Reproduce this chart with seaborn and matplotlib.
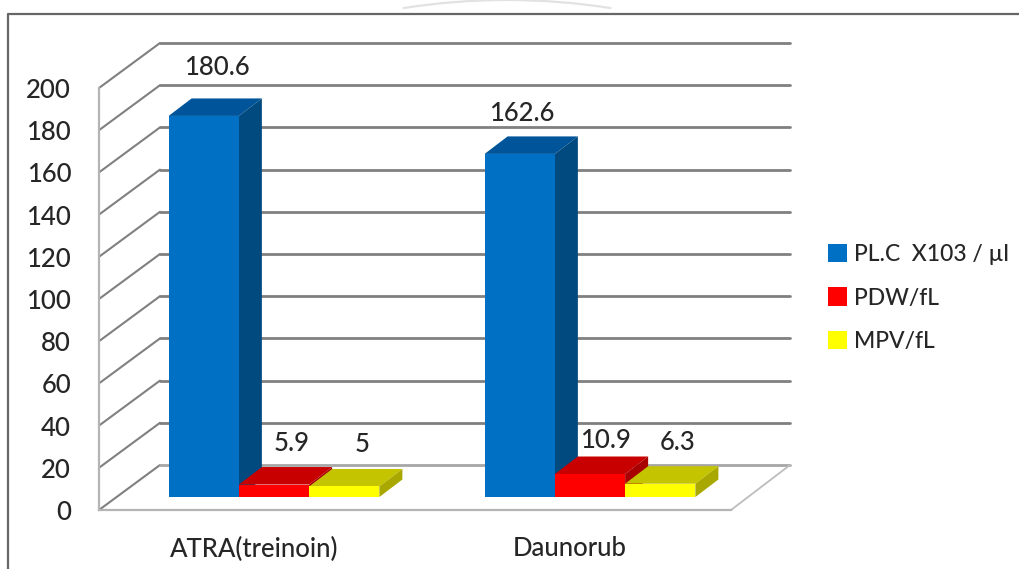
import matplotlib
matplotlib.use("Agg")
import matplotlib.pyplot as plt
from matplotlib.patches import Arc, Polygon
from matplotlib.transforms import ScaledTranslation
import pandas as pd
import seaborn as sns

# Platelet indices per treatment arm
categories = ["ATRA(treinoin)", "Daunorub"]
series_names = ["PL.C  X103 / µl", "PDW/fL", "MPV/fL"]
plc_values = [180.6, 162.6]
pdw_values = [5.9, 10.9]
mpv_values = [5, 6.3]
y_ticks = list(range(0, 201, 20))

front_colors = ["#0070C4", "#FF0000", "#FFFF00"]
top_colors = ["#00559A", "#C80000", "#C4C400"]
side_colors = ["#004A80", "#A80000", "#A8A800"]
# Per-series label nudges in pixels (right, up) from the top-centre of each front face
label_nudges = [[(13, 48), (2, 40)], [(18, 41), (15, 34)], [(18, 42), (17, 41)]]

W, H = 1019, 569
TEXT = "#262626"
FONT_SIZE = 18.5
sns.set_theme(style="white")
plt.rcParams["font.family"] = ["Lato", "DejaVu Sans"]
plt.rcParams["font.weight"] = "medium"
fig = plt.figure(figsize=(W / 100, H / 100), dpi=100, facecolor="white")


def axes_from_pixels(left, right, top, bottom, **kw):
    return fig.add_axes([left / W, 1 - bottom / H, (right - left) / W, (bottom - top) / H], **kw)


# Outer frame edges and the faint arc above them, in pixel coordinates
page = axes_from_pixels(0, W, 0, H)
page.set_xlim(0, W)
page.set_ylim(H, 0)
page.axis("off")
page.plot([8, 8, W], [H, 14, 14], color="#666666", lw=1.6)
page.add_patch(Arc((507, 667), 1334, 1334, theta1=261, theta2=279, ec="#E2E2E2", lw=1.6))

# Front plane of the box: carries the axes, ticks and the receding walls
PLANE = dict(left=99, right=731, top=88, bottom=510)
ax = axes_from_pixels(**PLANE)
ax.patch.set_alpha(0)
ax.set_xlim(-0.5, 1.5)
ax.set_ylim(0, 200)
px_x = 2 / (PLANE["right"] - PLANE["left"])
px_y = 200 / (PLANE["bottom"] - PLANE["top"])
wall_dx, wall_dy = 61 * px_x, 45 * px_y
wall_end = 1.5 + 59 * px_x

for v in y_ticks:
    ax.plot([-0.5, -0.5 + wall_dx], [v, v + wall_dy], color="#808080", lw=1.5, clip_on=False)
    if v > 0:
        ax.plot([-0.5 + wall_dx, wall_end], [v + wall_dy] * 2, color="#808080", lw=2.0, clip_on=False)
ax.plot([-0.5 + wall_dx, wall_end], [wall_dy, wall_dy], color="#A6A6A6", lw=2.0, clip_on=False)
ax.plot([1.5, wall_end], [0, wall_dy], color="#BDBDBD", lw=1.3, clip_on=False)

for side in ("top", "right"):
    ax.spines[side].set_visible(False)
for side in ("left", "bottom"):
    ax.spines[side].set_color("#B4B4B4")
    ax.spines[side].set_linewidth(1.6)
ax.set_yticks(y_ticks)
ax.set_xticks([0, 1], categories)
ax.set_xticks([-0.5, 0.5, 1.5], minor=True)
ax.tick_params(axis="y", length=8, width=1.3, color="#B4B4B4", labelsize=FONT_SIZE, labelcolor=TEXT, pad=12)
ax.tick_params(axis="x", which="major", length=0, labelsize=FONT_SIZE, labelcolor=TEXT, pad=19)
ax.tick_params(axis="x", which="minor", length=7, width=1.3, color="#B4B4B4")
for label in ax.get_xticklabels():
    label.set_transform(label.get_transform() + ScaledTranslation(-3 / 100, 0, fig.dpi_scale_trans))

# Bars stand a little way into the box, so their axes are shifted along the depth
SHIFT_X, SHIFT_Y = 17, 13
bar_ax = axes_from_pixels(PLANE["left"] + SHIFT_X, PLANE["right"] + SHIFT_X,
                          PLANE["top"] - SHIFT_Y, PLANE["bottom"] - SHIFT_Y)
bar_ax.patch.set_alpha(0)

table = pd.DataFrame({
    "category": categories * 3,
    "series": [name for name in series_names for _ in categories],
    "value": plc_values + pdw_values + mpv_values,
})
sns.barplot(data=table, x="category", y="value", hue="series", order=categories,
            hue_order=series_names, palette=front_colors, width=0.667, gap=0,
            saturation=1, dodge=True, errorbar=None, ax=bar_ax, linewidth=0)
bar_ax.set_xlim(-0.5, 1.5)
bar_ax.set_ylim(0, 200)
bar_ax.axis("off")

# Extrude every front face into a top and a side face
depth_x, depth_y = 23 * px_x, 17.5 * px_y
faces = []
for s, container in enumerate(bar_ax.containers):
    for c, bar in enumerate(container.patches):
        faces.append((bar.get_x(), s, c, bar))
for order, (x0, s, c, bar) in enumerate(sorted(faces, key=lambda f: f[0])):
    x1, h = x0 + bar.get_width(), bar.get_height()
    z = 3 + order
    bar_ax.add_patch(Polygon([(x0, h), (x1, h), (x1 + depth_x, h + depth_y), (x0 + depth_x, h + depth_y)],
                             closed=True, fc=top_colors[s], ec="none", zorder=z, clip_on=False))
    bar_ax.add_patch(Polygon([(x1, 0), (x1 + depth_x, depth_y), (x1 + depth_x, h + depth_y), (x1, h)],
                             closed=True, fc=side_colors[s], ec="none", zorder=z, clip_on=False))
    bar.set_zorder(z + 0.5)
    nudge_x, nudge_y = label_nudges[s][c]
    bar_ax.annotate(f"{h:g}", xy=((x0 + x1) / 2, h), xytext=(nudge_x * 0.72, nudge_y * 0.72),
                    textcoords="offset points", ha="center", va="center",
                    fontsize=FONT_SIZE, color=TEXT, zorder=50, annotation_clip=False)

handles, labels = bar_ax.get_legend_handles_labels()
if bar_ax.get_legend() is not None:
    bar_ax.get_legend().remove()
fig.legend(handles, labels, loc="center left", bbox_to_anchor=(828 / W, 1 - 298 / H), frameon=False,
           fontsize=16.5, labelcolor=TEXT, handlelength=0.85, handleheight=0.85,
           handletextpad=0.3, labelspacing=0.97, borderpad=0, borderaxespad=0)

fig.savefig("out.png", dpi=100, facecolor="white")
